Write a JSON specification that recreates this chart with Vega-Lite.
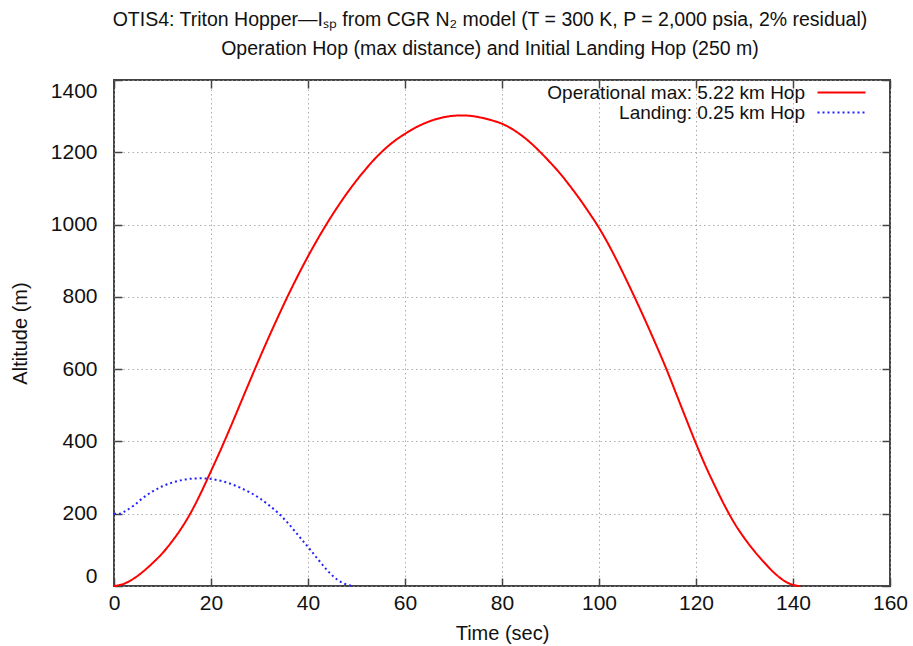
{
  "$schema": "https://vega.github.io/schema/vega-lite/v6.json",
  "autosize": {"type": "none"},
  "width": 776,
  "height": 506,
  "padding": {"left": 114, "top": 80, "right": 23, "bottom": 60},
  "background": "white",
  "title": {
    "text": ["OTIS4: Triton Hopper—Iₛₚ from CGR N₂ model (T = 300 K, P = 2,000 psia, 2% residual)", "Operation Hop (max distance) and Initial Landing Hop (250 m)"],
    "font": "Liberation Sans, Arial",
    "fontSize": 19.5,
    "fontWeight": "normal",
    "color": "#111",
    "lineHeight": 29,
    "offset": 20,
    "dx": -12,
    "anchor": "middle"
  },
  "config": {
    "view": {"stroke": "#444", "strokeWidth": 2},
    "axis": {
      "labelFont": "Liberation Sans, Arial",
      "titleFont": "Liberation Sans, Arial",
      "labelFontSize": 21,
      "titleFontSize": 20,
      "titleFontWeight": "normal",
      "labelColor": "#111",
      "titleColor": "#111",
      "domain": false,
      "tickColor": "#444",
      "tickWidth": 1.5,
      "tickSize": -8,
      "gridColor": "#999",
      "gridDash": [1.5, 3],
      "gridWidth": 1,
      "gridOpacity": 0.8
    }
  },
  "data": {
    "values": [
      {"t": 0, "alt": 0, "series": "Operational max: 5.22 km Hop"},
      {"t": 2, "alt": 6, "series": "Operational max: 5.22 km Hop"},
      {"t": 4, "alt": 20, "series": "Operational max: 5.22 km Hop"},
      {"t": 6, "alt": 40, "series": "Operational max: 5.22 km Hop"},
      {"t": 8, "alt": 64, "series": "Operational max: 5.22 km Hop"},
      {"t": 10, "alt": 91, "series": "Operational max: 5.22 km Hop"},
      {"t": 12, "alt": 124, "series": "Operational max: 5.22 km Hop"},
      {"t": 14, "alt": 162, "series": "Operational max: 5.22 km Hop"},
      {"t": 16, "alt": 207, "series": "Operational max: 5.22 km Hop"},
      {"t": 18, "alt": 260, "series": "Operational max: 5.22 km Hop"},
      {"t": 20, "alt": 318, "series": "Operational max: 5.22 km Hop"},
      {"t": 22, "alt": 377, "series": "Operational max: 5.22 km Hop"},
      {"t": 24, "alt": 439, "series": "Operational max: 5.22 km Hop"},
      {"t": 26, "alt": 503, "series": "Operational max: 5.22 km Hop"},
      {"t": 28, "alt": 567, "series": "Operational max: 5.22 km Hop"},
      {"t": 30, "alt": 630, "series": "Operational max: 5.22 km Hop"},
      {"t": 32, "alt": 691, "series": "Operational max: 5.22 km Hop"},
      {"t": 34, "alt": 750, "series": "Operational max: 5.22 km Hop"},
      {"t": 36, "alt": 807, "series": "Operational max: 5.22 km Hop"},
      {"t": 38, "alt": 861, "series": "Operational max: 5.22 km Hop"},
      {"t": 40, "alt": 912, "series": "Operational max: 5.22 km Hop"},
      {"t": 42, "alt": 960, "series": "Operational max: 5.22 km Hop"},
      {"t": 44, "alt": 1005, "series": "Operational max: 5.22 km Hop"},
      {"t": 46, "alt": 1047, "series": "Operational max: 5.22 km Hop"},
      {"t": 48, "alt": 1086, "series": "Operational max: 5.22 km Hop"},
      {"t": 50, "alt": 1122, "series": "Operational max: 5.22 km Hop"},
      {"t": 52, "alt": 1155, "series": "Operational max: 5.22 km Hop"},
      {"t": 54, "alt": 1185, "series": "Operational max: 5.22 km Hop"},
      {"t": 56, "alt": 1211, "series": "Operational max: 5.22 km Hop"},
      {"t": 58, "alt": 1233, "series": "Operational max: 5.22 km Hop"},
      {"t": 60, "alt": 1251, "series": "Operational max: 5.22 km Hop"},
      {"t": 62, "alt": 1267, "series": "Operational max: 5.22 km Hop"},
      {"t": 64, "alt": 1280, "series": "Operational max: 5.22 km Hop"},
      {"t": 66, "alt": 1290, "series": "Operational max: 5.22 km Hop"},
      {"t": 68, "alt": 1297, "series": "Operational max: 5.22 km Hop"},
      {"t": 70, "alt": 1301, "series": "Operational max: 5.22 km Hop"},
      {"t": 72, "alt": 1302, "series": "Operational max: 5.22 km Hop"},
      {"t": 74, "alt": 1300, "series": "Operational max: 5.22 km Hop"},
      {"t": 76, "alt": 1295, "series": "Operational max: 5.22 km Hop"},
      {"t": 78, "alt": 1288, "series": "Operational max: 5.22 km Hop"},
      {"t": 80, "alt": 1279, "series": "Operational max: 5.22 km Hop"},
      {"t": 82, "alt": 1265, "series": "Operational max: 5.22 km Hop"},
      {"t": 84, "alt": 1247, "series": "Operational max: 5.22 km Hop"},
      {"t": 86, "alt": 1225, "series": "Operational max: 5.22 km Hop"},
      {"t": 88, "alt": 1199, "series": "Operational max: 5.22 km Hop"},
      {"t": 90, "alt": 1171, "series": "Operational max: 5.22 km Hop"},
      {"t": 92, "alt": 1141, "series": "Operational max: 5.22 km Hop"},
      {"t": 94, "alt": 1107, "series": "Operational max: 5.22 km Hop"},
      {"t": 96, "alt": 1071, "series": "Operational max: 5.22 km Hop"},
      {"t": 98, "alt": 1032, "series": "Operational max: 5.22 km Hop"},
      {"t": 100, "alt": 991, "series": "Operational max: 5.22 km Hop"},
      {"t": 102, "alt": 944, "series": "Operational max: 5.22 km Hop"},
      {"t": 104, "alt": 892, "series": "Operational max: 5.22 km Hop"},
      {"t": 106, "alt": 837, "series": "Operational max: 5.22 km Hop"},
      {"t": 108, "alt": 780, "series": "Operational max: 5.22 km Hop"},
      {"t": 110, "alt": 721, "series": "Operational max: 5.22 km Hop"},
      {"t": 112, "alt": 660, "series": "Operational max: 5.22 km Hop"},
      {"t": 114, "alt": 597, "series": "Operational max: 5.22 km Hop"},
      {"t": 116, "alt": 529, "series": "Operational max: 5.22 km Hop"},
      {"t": 118, "alt": 461, "series": "Operational max: 5.22 km Hop"},
      {"t": 120, "alt": 394, "series": "Operational max: 5.22 km Hop"},
      {"t": 122, "alt": 331, "series": "Operational max: 5.22 km Hop"},
      {"t": 124, "alt": 274, "series": "Operational max: 5.22 km Hop"},
      {"t": 126, "alt": 220, "series": "Operational max: 5.22 km Hop"},
      {"t": 128, "alt": 172, "series": "Operational max: 5.22 km Hop"},
      {"t": 130, "alt": 132, "series": "Operational max: 5.22 km Hop"},
      {"t": 132, "alt": 97, "series": "Operational max: 5.22 km Hop"},
      {"t": 134, "alt": 66, "series": "Operational max: 5.22 km Hop"},
      {"t": 136, "alt": 38, "series": "Operational max: 5.22 km Hop"},
      {"t": 138, "alt": 16, "series": "Operational max: 5.22 km Hop"},
      {"t": 140, "alt": 3, "series": "Operational max: 5.22 km Hop"},
      {"t": 141.5, "alt": 0, "series": "Operational max: 5.22 km Hop"},
      {"t": 0, "alt": 200, "series": "Landing: 0.25 km Hop"},
      {"t": 1.2, "alt": 200, "series": "Landing: 0.25 km Hop"},
      {"t": 2, "alt": 205, "series": "Landing: 0.25 km Hop"},
      {"t": 4, "alt": 222, "series": "Landing: 0.25 km Hop"},
      {"t": 6, "alt": 244, "series": "Landing: 0.25 km Hop"},
      {"t": 8, "alt": 262, "series": "Landing: 0.25 km Hop"},
      {"t": 10, "alt": 276, "series": "Landing: 0.25 km Hop"},
      {"t": 12, "alt": 286, "series": "Landing: 0.25 km Hop"},
      {"t": 14, "alt": 293, "series": "Landing: 0.25 km Hop"},
      {"t": 16, "alt": 297, "series": "Landing: 0.25 km Hop"},
      {"t": 18, "alt": 298, "series": "Landing: 0.25 km Hop"},
      {"t": 20, "alt": 296, "series": "Landing: 0.25 km Hop"},
      {"t": 22, "alt": 291, "series": "Landing: 0.25 km Hop"},
      {"t": 24, "alt": 283, "series": "Landing: 0.25 km Hop"},
      {"t": 26, "alt": 272, "series": "Landing: 0.25 km Hop"},
      {"t": 28, "alt": 259, "series": "Landing: 0.25 km Hop"},
      {"t": 30, "alt": 243, "series": "Landing: 0.25 km Hop"},
      {"t": 32, "alt": 223, "series": "Landing: 0.25 km Hop"},
      {"t": 34, "alt": 200, "series": "Landing: 0.25 km Hop"},
      {"t": 36, "alt": 172, "series": "Landing: 0.25 km Hop"},
      {"t": 38, "alt": 140, "series": "Landing: 0.25 km Hop"},
      {"t": 40, "alt": 108, "series": "Landing: 0.25 km Hop"},
      {"t": 42, "alt": 75, "series": "Landing: 0.25 km Hop"},
      {"t": 44, "alt": 43, "series": "Landing: 0.25 km Hop"},
      {"t": 46, "alt": 18, "series": "Landing: 0.25 km Hop"},
      {"t": 48, "alt": 4, "series": "Landing: 0.25 km Hop"},
      {"t": 49.5, "alt": 0, "series": "Landing: 0.25 km Hop"}
    ]
  },
  "layer": [
    {
      "mark": {"type": "line", "strokeWidth": 2, "interpolate": "monotone"},
      "encoding": {
        "x": {
          "field": "t", "type": "quantitative",
          "scale": {"domain": [0, 160], "nice": false, "zero": false},
          "axis": {"title": "Time (sec)", "values": [0, 20, 40, 60, 80, 100, 120, 140, 160], "grid": true, "labelFlush": false, "labelPadding": 14, "titlePadding": 10}
        },
        "y": {
          "field": "alt", "type": "quantitative",
          "scale": {"domain": [0, 1400], "nice": false},
          "axis": {"title": "Altitude (m)", "format": "d", "values": [0, 200, 400, 600, 800, 1000, 1200, 1400], "grid": true, "labelPadding": 25, "labelFlush": true, "titlePadding": 20}
        },
        "color": {
          "field": "series", "type": "nominal",
          "scale": {"domain": ["Operational max: 5.22 km Hop", "Landing: 0.25 km Hop"], "range": ["#ff0000", "#2222ff"]},
          "legend": {
            "title": null,
            "orient": "none",
            "legendX": 704,
            "legendY": 3,
            "padding": 0,
            "symbolType": "M-4,0H4",
            "symbolSize": 144,
            "symbolOffset": 14,
            "symbolStrokeWidth": 2,
            "rowPadding": 0,
            "labelAlign": "right",
            "labelOffset": -46,
            "labelFont": "Liberation Sans, Arial",
            "labelFontSize": 19,
            "labelColor": "#111",
            "labelLimit": 400
          }
        },
        "strokeDash": {
          "field": "series", "type": "nominal",
          "scale": {"domain": ["Operational max: 5.22 km Hop", "Landing: 0.25 km Hop"], "range": [[1, 0], [2, 3]]},
          "legend": null
        }
      }
    },
    {
      "mark": {"type": "point", "opacity": 0},
      "encoding": {
        "x": {
          "field": "t", "type": "quantitative",
          "scale": {"domain": [0, 160], "nice": false, "zero": false},
          "axis": {"orient": "top", "title": null, "labels": false, "grid": false, "values": [0, 20, 40, 60, 80, 100, 120, 140, 160]}
        },
        "y": {
          "field": "alt", "type": "quantitative",
          "scale": {"domain": [0, 1400], "nice": false},
          "axis": {"orient": "right", "title": null, "labels": false, "grid": false, "values": [0, 200, 400, 600, 800, 1000, 1200, 1400]}
        }
      }
    }
  ],
  "resolve": {"scale": {"x": "independent", "y": "independent"}, "axis": {"x": "independent", "y": "independent"}}
}
